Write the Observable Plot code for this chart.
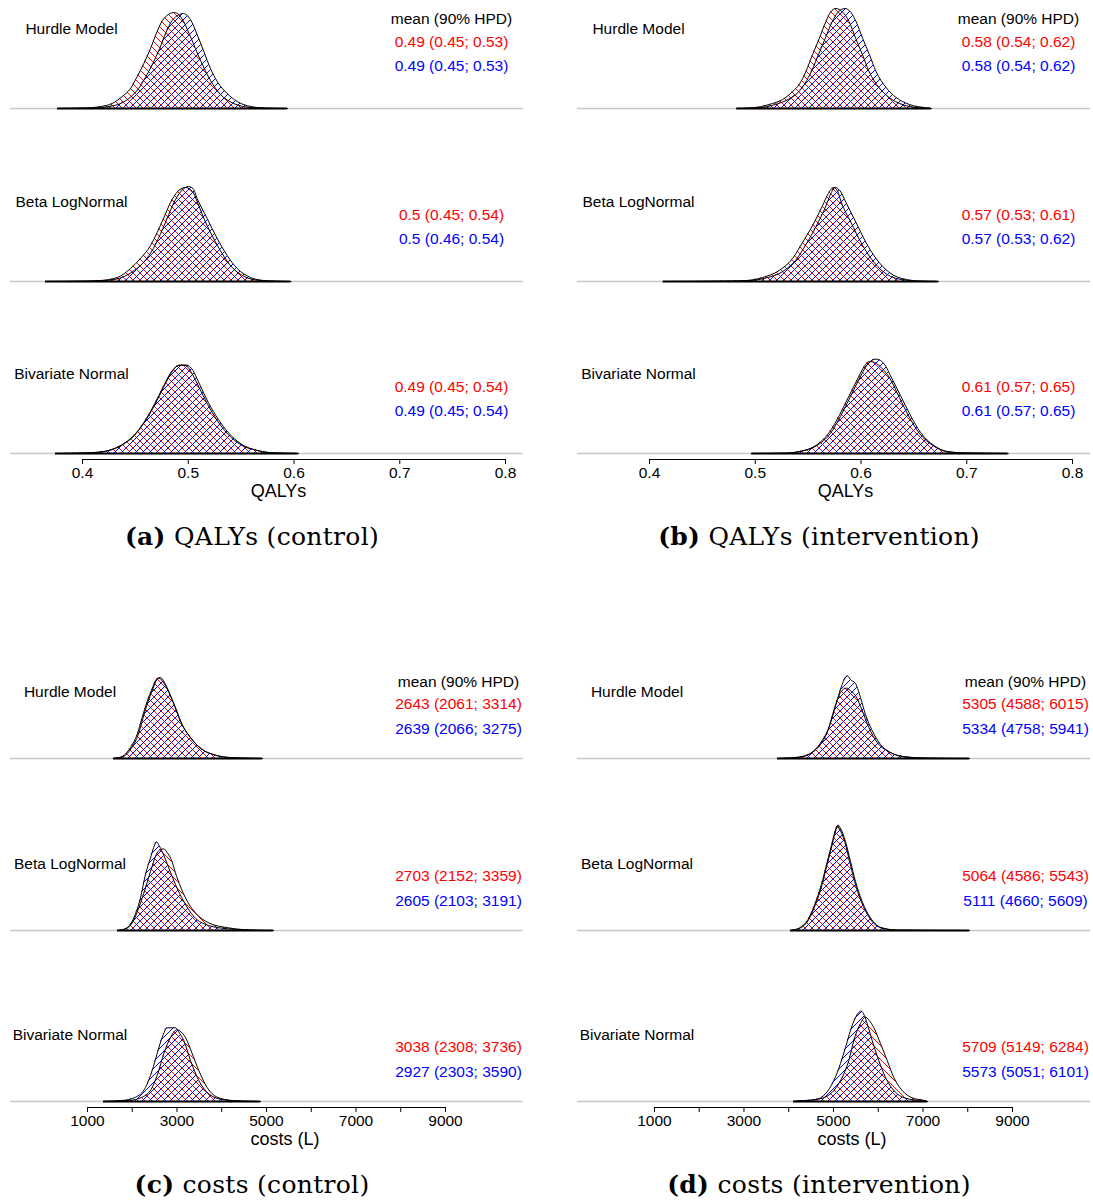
<!DOCTYPE html>
<html><head><meta charset="utf-8">
<script src="https://cdn.jsdelivr.net/npm/d3@7"></script>
<script src="https://cdn.jsdelivr.net/npm/@observablehq/plot@0.6"></script>
<style>
html,body{margin:0;padding:0;background:#fff;}
#root{position:relative;width:1093px;height:1203px;overflow:hidden;background:#fff;}
.panel{position:absolute;width:546px;height:555px;}
.panel svg{position:absolute;left:0;top:0;}
.caption{position:absolute;left:0;width:504px;top:522px;line-height:30px;text-align:center;font-family:"DejaVu Serif",serif;font-size:25px;letter-spacing:0.3px;color:#000;white-space:nowrap;}
</style></head><body>
<svg width="0" height="0" style="position:absolute">
<defs>
<pattern id="hatchRed" patternUnits="userSpaceOnUse" width="7" height="7">
<path d="M-1,-1 L8,8 M-1,6 L1,8 M6,-1 L8,1" stroke="#ff0000" stroke-width="1" fill="none" shape-rendering="crispEdges"/>
</pattern>
<pattern id="hatchBlue" patternUnits="userSpaceOnUse" width="7" height="7">
<path d="M-1,8 L8,-1 M-1,1 L1,-1 M6,8 L8,6" stroke="#0000ff" stroke-width="1" fill="none" shape-rendering="crispEdges"/>
</pattern>
</defs></svg>
<div id="root"></div>
<script>
// ---------- tick values / labels ----------
const qalyTicks = [0.4, 0.5, 0.6, 0.7, 0.8];
const costTicks = [1000, 2000, 3000, 4000, 5000, 6000, 7000, 8000, 9000];
const costTickLabels = [1000, 3000, 5000, 7000, 9000];
const models = ["Hurdle Model", "Beta LogNormal", "Bivariate Normal"];
const header = "mean (90% HPD)";
const captions = ["QALYs (control)", "QALYs (intervention)", "costs (control)", "costs (intervention)"];
const captionTags = ["(a)", "(b)", "(c)", "(d)"];

// ---------- summary texts ----------
const qCtrlRedStats = ["0.49 (0.45; 0.53)", "0.5 (0.45; 0.54)", "0.49 (0.45; 0.54)"];
const qCtrlBlueStats = ["0.49 (0.45; 0.53)", "0.5 (0.46; 0.54)", "0.49 (0.45; 0.54)"];
const qIntRedStats = ["0.58 (0.54; 0.62)", "0.57 (0.53; 0.61)", "0.61 (0.57; 0.65)"];
const qIntBlueStats = ["0.58 (0.54; 0.62)", "0.57 (0.53; 0.62)", "0.61 (0.57; 0.65)"];
const cCtrlRedStats = ["2643 (2061; 3314)", "2703 (2152; 3359)", "3038 (2308; 3736)"];
const cCtrlBlueStats = ["2639 (2066; 3275)", "2605 (2103; 3191)", "2927 (2303; 3590)"];
const cIntRedStats = ["5305 (4588; 6015)", "5064 (4586; 5543)", "5709 (5149; 6284)"];
const cIntBlueStats = ["5334 (4758; 5941)", "5111 (4660; 5609)", "5573 (5051; 6101)"];

// ---------- density curves [value, relative height] ----------
// (a) QALYs control
const qCtrlHurdleRed = [[0.3764,0],[0.401,0.4],[0.417,2],[0.428,5],[0.4375,12],[0.4454,20],[0.4517,32],[0.458,45],[0.4643,60],[0.4706,77],[0.4769,90],[0.487,96],[0.494,90],[0.502,72],[0.5116,48],[0.521,28],[0.5305,14],[0.543,5],[0.559,1],[0.575,0.2],[0.5938,0]];
const qCtrlHurdleBlue = [[0.3764,0],[0.41,0.4],[0.425,2],[0.436,5],[0.445,11],[0.453,20],[0.46,32],[0.4665,45],[0.473,60],[0.479,76],[0.4855,89],[0.4955,95],[0.502,89],[0.5084,74],[0.5147,57],[0.521,40],[0.5274,27],[0.5368,15],[0.5463,7],[0.559,2],[0.5747,0.3],[0.5938,0]];
const qCtrlBetaRed = [[0.365,0],[0.40,0.3],[0.417,1],[0.4328,4],[0.4454,13],[0.4548,23],[0.4643,36],[0.4706,49],[0.477,64],[0.4832,79],[0.49,90],[0.4974,94],[0.504,90],[0.5084,80],[0.514,65],[0.523,45],[0.532,28],[0.5415,14],[0.553,5],[0.566,1.2],[0.58,0.3],[0.597,0]];
const qCtrlBetaBlue = [[0.365,0],[0.405,0.3],[0.422,1],[0.437,4],[0.449,11],[0.4585,20],[0.467,33],[0.4735,47],[0.48,63],[0.4865,79],[0.493,90],[0.5,95],[0.5045,93],[0.5084,83],[0.5179,63],[0.5274,43],[0.5368,26],[0.5463,13],[0.5589,4],[0.5714,1],[0.585,0.2],[0.597,0]];
const qCtrlBivRed = [[0.3745,0],[0.40,0.4],[0.4201,2],[0.436,8],[0.4485,18],[0.458,31],[0.4674,48],[0.4769,68],[0.485,83],[0.4908,88],[0.4974,88],[0.503,81],[0.5084,70],[0.5179,50],[0.5274,33],[0.5368,20],[0.5494,9],[0.5652,3],[0.584,0.4],[0.604,0]];
const qCtrlBivBlue = [[0.3745,0],[0.40,0.4],[0.4205,2],[0.4365,8],[0.449,18],[0.4585,31],[0.468,48],[0.4775,68],[0.4855,83],[0.4915,88.5],[0.498,88.5],[0.5045,83],[0.5095,72],[0.519,51],[0.5285,34],[0.5378,21],[0.55,9.5],[0.5655,3],[0.584,0.4],[0.604,0]];
// (b) QALYs intervention
const qIntHurdleRed = [[0.4825,0],[0.4973,0.7],[0.5131,4],[0.5258,9],[0.5353,17],[0.5415,24],[0.5479,37],[0.5542,54],[0.5605,70],[0.5668,87],[0.571,96],[0.5763,100],[0.582,97],[0.5887,87],[0.595,70],[0.6013,54],[0.6076,37],[0.617,21],[0.6266,11],[0.639,4],[0.655,0.7],[0.6664,0]];
const qIntHurdleBlue = [[0.4825,0],[0.503,0.7],[0.519,4],[0.531,9],[0.5405,16],[0.547,25],[0.5535,38],[0.5598,54],[0.5661,70],[0.5724,86],[0.578,96],[0.5848,100],[0.5905,96],[0.5953,87],[0.6016,70],[0.6079,54],[0.6142,37],[0.6237,21],[0.6332,11],[0.6458,4],[0.6616,0.7],[0.6664,0]];
const qIntBetaRed = [[0.413,0],[0.46,0.2],[0.4879,0.7],[0.5068,4],[0.5226,11],[0.5353,23],[0.5447,39],[0.5542,56],[0.5637,76],[0.569,88],[0.5741,94],[0.578,90],[0.5811,80],[0.5905,59],[0.6,39],[0.6095,23],[0.622,9],[0.638,2],[0.655,0.3],[0.673,0]];
const qIntBetaBlue = [[0.413,0],[0.465,0.2],[0.492,0.7],[0.51,3.5],[0.526,10],[0.538,21],[0.548,37],[0.5575,55],[0.567,76],[0.5715,88],[0.5755,94],[0.58,91],[0.5858,79],[0.5953,59],[0.6047,39],[0.6142,23],[0.6268,9],[0.6427,2],[0.658,0.3],[0.673,0]];
const qIntBivRed = [[0.4967,0],[0.53,0.3],[0.5415,2],[0.5573,8],[0.57,21],[0.5794,38],[0.5889,58],[0.5984,78],[0.603,87],[0.6079,92],[0.613,91],[0.62,85],[0.6268,76],[0.6363,56],[0.6458,36],[0.6553,20],[0.668,8],[0.6806,2],[0.70,0.4],[0.739,0]];
const qIntBivBlue = [[0.4967,0],[0.53,0.3],[0.5425,2],[0.5583,8],[0.571,20],[0.5805,37],[0.59,57],[0.5995,77],[0.606,89],[0.6142,94.4],[0.6185,93],[0.6235,87],[0.6278,78],[0.6373,58],[0.6468,38],[0.6563,21],[0.669,8],[0.6816,2],[0.70,0.4],[0.739,0]];
// (c) costs control
const cCtrlHurdleRed = [[1580,0],[1775,2],[1961,11],[2109,24],[2222,41],[2332,57],[2446,70],[2520,78],[2590,80.5],[2680,77],[2800,68],[2950,52],[3100,35],[3290,21.5],[3550,9.5],[3850,3.5],[4234,0.8],[4600,0.2],[4910,0]];
const cCtrlHurdleBlue = [[1580,0],[1800,2],[1990,11],[2135,24],[2245,41],[2355,57],[2465,70],[2550,79],[2631,81],[2720,76],[2817,67],[2966,51],[3116,34],[3302,21],[3563,9],[3860,3.3],[4234,0.7],[4600,0.2],[4910,0]];
const cCtrlBetaRed = [[1670,0],[1849,1.6],[1999,7.6],[2147,22.6],[2296,42.6],[2408,59],[2557,77.6],[2630,81],[2706,81.6],[2780,78],[2855,72.6],[3004,52.6],[3190,32.6],[3413,17.6],[3711,7.6],[4158,2.6],[4754,0.3],[5157,0]];
const cCtrlBetaBlue = [[1670,0],[1887,2.6],[2035,12.6],[2184,32.6],[2296,56],[2408,72.6],[2480,83],[2542,88.6],[2600,85],[2669,79],[2817,62.6],[2966,46],[3152,29],[3375,14],[3711,5],[4158,1.6],[4680,0.3],[5157,0]];
const cCtrlBivRed = [[1358,0],[1923,1],[2222,4.3],[2446,14],[2593,31],[2706,48],[2855,64],[2940,70],[3004,71.7],[3080,70],[3190,64],[3339,48],[3488,31],[3674,14],[3898,4.3],[4234,1],[4600,0.2],[4866,0]];
const cCtrlBivBlue = [[1358,0],[1775,1],[2073,4.3],[2296,14],[2446,31],[2557,48],[2669,64],[2781,73.7],[2966,73.7],[3060,68],[3152,61],[3302,41],[3488,21],[3711,7.7],[4010,2],[4457,0.3],[4866,0]];
// (d) costs intervention
const cIntHurdleRed = [[3749,0],[3927,0.4],[4300,2],[4561,7.7],[4748,18],[4897,31],[5008,48],[5157,66],[5290,70.4],[5400,67],[5492,63],[5641,48],[5790,31],[5976,16],[6200,7.7],[6459,2.7],[6832,0.7],[7300,0.1],[8039,0]];
const cIntHurdleBlue = [[3749,0],[4077,0.4],[4300,1.7],[4524,6],[4709,14],[4859,26],[4971,41],[5082,58],[5194,74],[5306,82.7],[5400,78],[5476,76],[5540,70],[5603,61],[5715,44],[5864,28],[6050,14],[6274,6],[6609,1.7],[7056,0.4],[8039,0]];
const cIntBetaRed = [[4039,0],[4240,2.6],[4430,11],[4580,26],[4730,46],[4845,66],[4960,86],[5040,100],[5085,105],[5140,101],[5250,89],[5360,69],[5472,49],[5620,29],[5805,12.6],[6065,2.6],[6440,0.3],[8039,0]];
const cIntBetaBlue = [[4039,0],[4263,2.6],[4449,11],[4598,26],[4747,46],[4859,66],[4971,86],[5060,101],[5105,105.3],[5160,102],[5268,89],[5380,69],[5492,49],[5641,29],[5827,12.6],[6088,2.6],[6460,0.3],[8039,0]];
const cIntBivRed = [[4106,0],[4374,0.7],[4747,3.3],[5008,11],[5194,24],[5343,41],[5454,61],[5603,78],[5715,84.3],[5800,81],[5900,74],[6050,58],[6200,41],[6348,24],[6534,11],[6758,3.7],[7056,0.7],[7101,0]];
const cIntBivBlue = [[4106,0],[4151,0.3],[4598,2],[4821,7.7],[5008,21],[5157,38],[5268,54],[5380,71],[5492,84],[5619,90.3],[5690,86],[5753,78],[5864,61],[6013,41],[6162,24],[6348,11],[6609,3.3],[6982,0.7],[7101,0]];

// ---------- panel layout ----------
const FONT = '"Liberation Sans", Arial, Helvetica, sans-serif';
const qalyLayout = {offsets: [345, 172, 0], labelRise: 79, headRise: 89, redRise: 66, blueRise: 42, statX: 451, labelX: 71,
  xDomain: [0.3319, 0.8170], ticks: qalyTicks, fmt: d => String(d), title: "QALYs", titleX: 278};
const costLayout = {offsets: [343, 171, 0], labelRise: 66, headRise: 76, redRise: 54, blueRise: 29, statX: 458, labelX: 69.5,
  xDomain: [-720, 10743], ticks: costTicks, fmt: d => costTickLabels.includes(d) ? String(d) : "", title: "costs (L)", titleX: 284.5};

const panels = [
  {L: qalyLayout, left: 0, top: 0, rows: [[qCtrlHurdleRed, qCtrlHurdleBlue], [qCtrlBetaRed, qCtrlBetaBlue], [qCtrlBivRed, qCtrlBivBlue]], red: qCtrlRedStats, blue: qCtrlBlueStats},
  {L: qalyLayout, left: 567, top: 0, rows: [[qIntHurdleRed, qIntHurdleBlue], [qIntBetaRed, qIntBetaBlue], [qIntBivRed, qIntBivBlue]], red: qIntRedStats, blue: qIntBlueStats},
  {L: costLayout, left: 0, top: 648, rows: [[cCtrlHurdleRed, cCtrlHurdleBlue], [cCtrlBetaRed, cCtrlBetaBlue], [cCtrlBivRed, cCtrlBivBlue]], red: cCtrlRedStats, blue: cCtrlBlueStats},
  {L: costLayout, left: 567, top: 648, rows: [[cIntHurdleRed, cIntHurdleBlue], [cIntBetaRed, cIntBetaBlue], [cIntBivRed, cIntBivBlue]], red: cIntRedStats, blue: cIntBlueStats}
];

const W = 546, H = 510, ML = 10, MR = 23, MT = 0, MB = 51;
const yMin = -6, yMax = 453;
const frameMid = (ML + (W - MR)) / 2;

function drawPanel(p) {
  const L = p.L;
  const marks = [Plot.ruleY(L.offsets, {stroke: "#c8c8c8", strokeWidth: 1.5})];
  p.rows.forEach((pair, i) => {
    const off = L.offsets[i];
    const [red, blue] = pair;
    marks.push(Plot.areaY(red, {x: d => d[0], y1: () => off, y2: d => off + d[1], fill: "url(#hatchRed)", curve: "monotone-x"}));
    marks.push(Plot.areaY(blue, {x: d => d[0], y1: () => off, y2: d => off + d[1], fill: "url(#hatchBlue)", curve: "monotone-x"}));
    marks.push(Plot.lineY(red, {x: d => d[0], y: d => off + d[1], stroke: "black", strokeWidth: 1, curve: "monotone-x"}));
    marks.push(Plot.lineY(blue, {x: d => d[0], y: d => off + d[1], stroke: "black", strokeWidth: 1, curve: "monotone-x"}));
    const lo = Math.min(red[0][0], blue[0][0]);
    const hi = Math.max(red[red.length - 1][0], blue[blue.length - 1][0]);
    marks.push(Plot.ruleY([off], {x1: lo, x2: hi, stroke: "black", strokeWidth: 1.8}));
  });
  // model labels
  marks.push(Plot.text(models, {frameAnchor: "left", y: (d, i) => L.offsets[i] + L.labelRise, dx: L.labelX - ML, textAnchor: "middle", fontSize: 15.5, fill: "black"}));
  // header + stats
  marks.push(Plot.text([header], {frameAnchor: "left", y: () => L.offsets[0] + L.headRise, dx: L.statX - ML, textAnchor: "middle", fontSize: 15.5, fill: "black"}));
  marks.push(Plot.text(p.red, {frameAnchor: "left", y: (d, i) => L.offsets[i] + L.redRise, dx: L.statX - ML, textAnchor: "middle", fontSize: 15.5, fill: "#ff0000"}));
  marks.push(Plot.text(p.blue, {frameAnchor: "left", y: (d, i) => L.offsets[i] + L.blueRise, dx: L.statX - ML, textAnchor: "middle", fontSize: 15.5, fill: "#0000ff"}));
  // axis
  marks.push(Plot.ruleY([yMin], {x1: L.ticks[0], x2: L.ticks[L.ticks.length - 1], stroke: "black", strokeWidth: 1}));
  marks.push(Plot.axisX(L.ticks, {tickSize: 5, tickPadding: 2, tickFormat: L.fmt, label: null, fontSize: 15.5, stroke: "black", fill: "black"}));
  marks.push(Plot.text([L.title], {frameAnchor: "bottom", lineAnchor: "middle", dx: L.titleX - frameMid, dy: 32, fontSize: 18, fill: "black"}));

  return Plot.plot({
    width: W, height: H, marginLeft: ML, marginRight: MR, marginTop: MT, marginBottom: MB,
    x: {domain: L.xDomain, axis: null},
    y: {domain: [yMin, yMax], axis: null},
    style: {fontFamily: FONT, fontSize: "15.5px", background: "transparent", color: "black", overflow: "visible"},
    marks
  });
}

const root = document.getElementById("root");
panels.forEach((p, k) => {
  const div = document.createElement("div");
  div.className = "panel";
  div.style.left = p.left + "px";
  div.style.top = p.top + "px";
  div.appendChild(drawPanel(p));
  const cap = document.createElement("div");
  cap.className = "caption";
  const b = document.createElement("b");
  b.textContent = captionTags[k];
  cap.appendChild(b);
  cap.appendChild(document.createTextNode(" " + captions[k]));
  div.appendChild(cap);
  root.appendChild(div);
});
</script></body></html>
